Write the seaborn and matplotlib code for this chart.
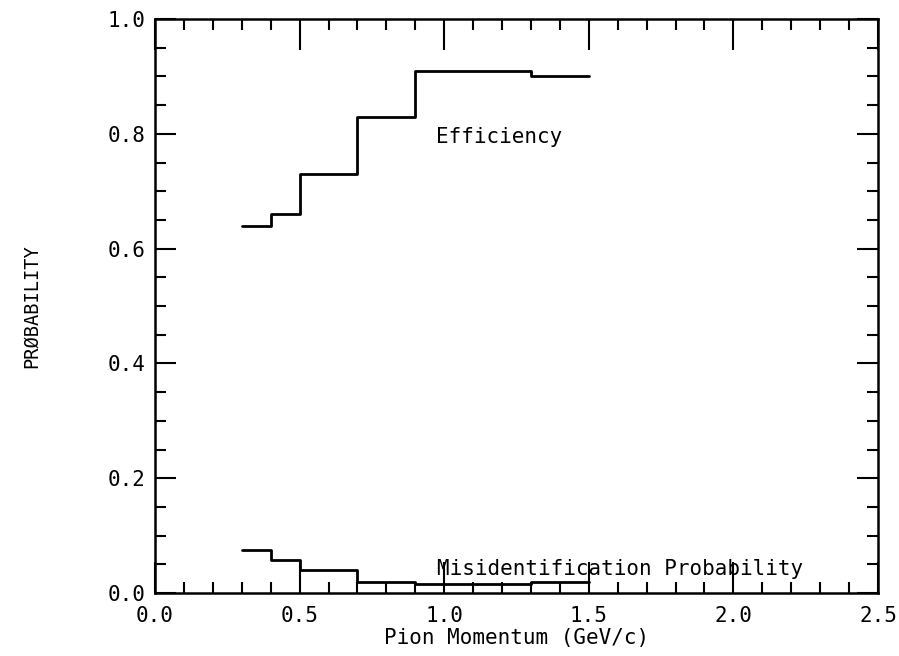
import numpy as np
import pandas as pd
import matplotlib
matplotlib.use("Agg")
import matplotlib.pyplot as plt
import seaborn as sns
from matplotlib.ticker import MultipleLocator

#%% Daten
edges = [0.3, 0.4, 0.5, 0.7, 0.9, 1.3, 1.5]
efficiency = [0.64, 0.66, 0.73, 0.83, 0.91, 0.90]
misid = [0.075, 0.058, 0.040, 0.020, 0.015, 0.020]

x_ticks = [0.0, 0.5, 1.0, 1.5, 2.0, 2.5]
y_ticks = [0.0, 0.2, 0.4, 0.6, 0.8, 1.0]

#%% Tabelle für steps-post (letzter Wert wiederholt)
def steps(vals):
    return pd.DataFrame({"p": edges, "prob": list(vals) + [vals[-1]]})

df_eff = steps(efficiency)
df_mis = steps(misid)

#%% Plot
sns.set_style("ticks")
plt.rcParams['font.family'] = ['DejaVu Sans Mono', 'DejaVu Sans']
plt.rcParams['text.color'] = 'black'

fig = plt.figure(figsize=(8.99, 6.56), dpi=100)
ax = fig.add_axes([0.1724, 0.096, 0.8042, 0.875])

sns.lineplot(data=df_eff, x="p", y="prob", drawstyle="steps-post",
             color="black", linewidth=2.0, estimator=None, ax=ax)
sns.lineplot(data=df_mis, x="p", y="prob", drawstyle="steps-post",
             color="black", linewidth=2.0, estimator=None, ax=ax)

ax.set_xlim(0, 2.5)
ax.set_ylim(0, 1.0)
ax.set_xticks(x_ticks)
ax.set_yticks(y_ticks)
ax.set_xticklabels([f"{t:.1f}" for t in x_ticks])
ax.set_yticklabels([f"{t:.1f}" for t in y_ticks])
ax.xaxis.set_minor_locator(MultipleLocator(0.1))
ax.yaxis.set_minor_locator(MultipleLocator(0.05))

ax.tick_params(which="both", direction="in", top=True, right=True,
               width=1.5, labelsize=15, colors="black")
ax.tick_params(axis="x", which="major", length=22, pad=9)
ax.tick_params(axis="x", which="minor", length=8)
ax.tick_params(axis="y", which="major", length=15, pad=7)
ax.tick_params(axis="y", which="minor", length=8)
for s in ax.spines.values():
    s.set_linewidth(1.8)
    s.set_color("black")

ax.set_xlabel("Pion Momentum (GeV/c)", fontsize=15, labelpad=2,
              color="black")
ax.set_ylabel("PRØBABILITY", fontsize=13.5, labelpad=48, color="black")

ax.text(0.97, 0.795, "Efficiency", fontsize=15, ha="left", va="center",
        color="black")
ax.text(0.975, 0.042, "Misidentification Probability", fontsize=15,
        ha="left", va="center", color="black")

fig.savefig("out.png", dpi=100)
